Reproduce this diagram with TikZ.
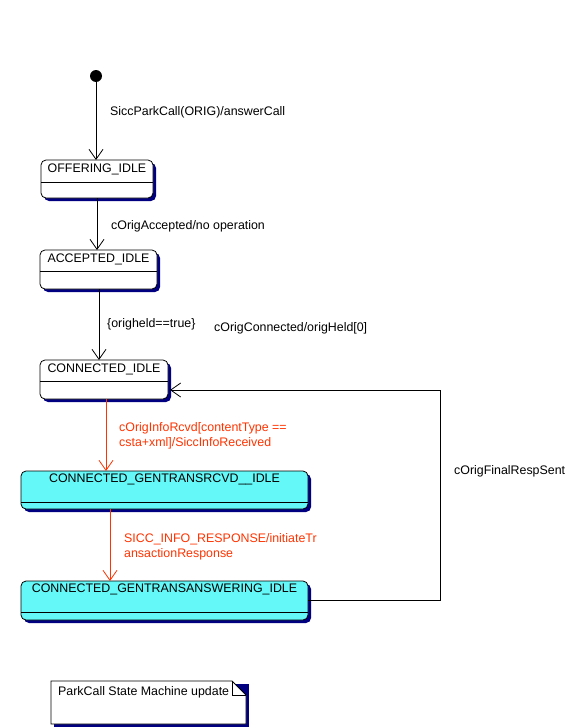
\documentclass[tikz,border=0pt]{standalone}
\usepackage{fontspec}
\setmainfont{Liberation Sans}
\usetikzlibrary{arrows.meta,shadows}
\definecolor{navyshadow}{RGB}{0,0,128}
\definecolor{cyanfill}{RGB}{100,248,248}
\definecolor{redtxt}{RGB}{255,51,0}
\begin{document}
\begin{tikzpicture}[x=1pt,y=-1pt,
  font=\fontsize{12.4}{15}\selectfont,
  every node/.style={inner sep=0pt},
  state/.style={draw=black,line width=0.8pt,rounded corners=5pt,fill=white,
    drop shadow={shadow xshift=3pt,shadow yshift=-3pt,fill=navyshadow,opacity=1}},
  cstate/.style={state,fill=cyanfill},
  trans/.style={draw=black,line width=0.8pt,-{Straight Barb[length=10pt,width=14pt,line width=0.8pt]}},
  rtrans/.style={trans,draw=redtxt},
  lbl/.style={anchor=west,align=left},
  rlbl/.style={lbl,text=redtxt}
]
\useasboundingbox (0,0) rectangle (580,728);

% initial state
\node[circle,fill=black,minimum size=12pt] (init) at (96,76) {};

% states
\node[state,minimum width=112pt,minimum height=38pt] (off) at (97,179) {};
\draw[line width=0.8pt] (41,182) -- (153,182);
\node (offt) at (97,169.5) {OFFERING\_IDLE};

\node[state,minimum width=117pt,minimum height=39pt] (acc) at (98.5,269.5) {};
\draw[line width=0.8pt] (40,271) -- (157,271);
\node (acct) at (98.5,259.5) {ACCEPTED\_IDLE};

\node[state,minimum width=128pt,minimum height=39pt] (con) at (104,379.5) {};
\draw[line width=0.8pt] (40,381) -- (168,381);
\node (cont) at (104,369.5) {CONNECTED\_IDLE};

\node[cstate,minimum width=287pt,minimum height=38pt] (rcv) at (164.5,490) {};
\draw[line width=0.8pt] (21,502) -- (308,502);
\node (rcvt) at (164.5,479) {CONNECTED\_GENTRANSRCVD\_\_IDLE};

\node[cstate,minimum width=287pt,minimum height=39pt] (ans) at (164.5,600.5) {};
\draw[line width=0.8pt] (21,612) -- (308,612);
\node (anst) at (164.5,589.5) {CONNECTED\_GENTRANSANSWERING\_IDLE};

% transitions
\coordinate (offtop) at (96,160);
\draw[trans] (init) -- (offtop);
\node[lbl] (l1) at (110,112) {SiccParkCall(ORIG)/answerCall};

\coordinate (offbot) at (97,198);
\coordinate (acctop) at (97,250);
\draw[trans] (offbot) -- (acctop);
\node[lbl] (l2) at (111,226) {cOrigAccepted/no operation};

\coordinate (accbot) at (99,289);
\coordinate (contop) at (99,360);
\draw[trans] (accbot) -- (contop);
\node[lbl] (l3) at (107,324) {\{origheld==true\}};
\node[lbl] (l4) at (214,328) {cOrigConnected/origHeld[0]};

\coordinate (conbot) at (106,399);
\coordinate (rcvtop) at (106,471);
\draw[rtrans] (conbot) -- (rcvtop);
\node[rlbl] (l5) at (119,435.5) {cOrigInfoRcvd[contentType ==\\csta+xml]/SiccInfoReceived};

\coordinate (rcvbot) at (110,509);
\coordinate (anstop) at (110,581);
\draw[rtrans] (rcvbot) -- (anstop);
\node[rlbl] (l6) at (124,546.5) {SICC\_INFO\_RESPONSE/initiateTr\\ansactionResponse};

\coordinate (ansright) at (308,600);
\coordinate (conright) at (170,390);
\draw[trans] (ansright) -- (440,600) -- (440,390) -- (conright);
\node[lbl] (l7) at (454,471) {cOrigFinalRespSent};

% note
\fill[navyshadow] (54,684) -- (249,684) -- (249,727) -- (54,727) -- cycle;
\draw[line width=0.8pt,fill=white] (51,681) -- (232,681) -- (246,695) -- (246,724) -- (51,724) -- cycle;
\draw[line width=0.8pt] (232,681) -- (232,695) -- (246,695);
\node[anchor=west] (note) at (58,692) {ParkCall State Machine update};
\end{tikzpicture}
\end{document}
